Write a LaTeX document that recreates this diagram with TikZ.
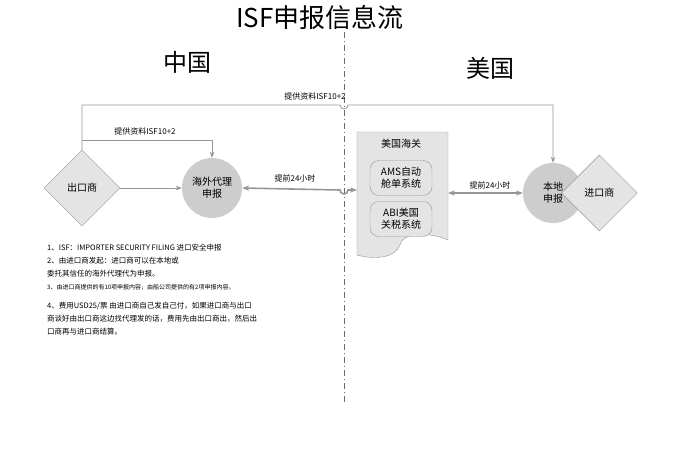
\documentclass[tikz,border=0pt]{standalone}
\usepackage{fontspec}
\setmainfont{Noto Sans CJK SC}
\usetikzlibrary{arrows.meta,positioning,shapes.geometric}
\definecolor{lined}{RGB}{150,150,150}
\definecolor{shade}{RGB}{228,228,228}
\definecolor{dark}{RGB}{205,205,205}

\begin{document}
\begin{tikzpicture}[x=1pt, y=-1pt,
    flow/.style={draw=lined, line width=0.8pt, -{Stealth[length=6pt]}},
    twoway/.style={draw=lined, line width=1.6pt, {Stealth[length=7pt]}-{Stealth[length=7pt]}},
    party/.style={diamond, draw=lined, fill=shade, minimum width=76pt, minimum height=76pt, inner sep=0pt, font=\fontsize{10}{12}\selectfont},
    filer/.style={circle, fill=dark, minimum size=60pt, inner sep=0pt, align=center, font=\fontsize{10}{12}\selectfont},
    system/.style={rectangle, rounded corners=9pt, draw=lined, fill=shade, minimum width=62pt, minimum height=35pt, align=center, inner sep=1pt, font=\fontsize{10}{12}\selectfont},
    tag/.style={font=\fontsize{8}{9}\selectfont}
]
    \useasboundingbox (0,0) rectangle (690,455);

    % headings
    \node (title) at (320,18) {\fontsize{26}{28}\selectfont ISF申报信息流};
    \node (cn) at (187,62) {\fontsize{24}{26}\selectfont 中国};
    \node (us) at (490,68) {\fontsize{24}{26}\selectfont 美国};
    \draw[lined!70!black, dash pattern=on 6pt off 3pt on 1pt off 3pt] (344,32) -- (344,405);

    % parties
    \node (exp) [party] at (82,188) {出口商};
    \node (agent) [filer] at (212,188) {海外代理\\申报};
    \node (local) [filer] at (553,193) {本地\\申报};
    \node (imp) [party, right=-22pt of local] {进口商};

    % customs
    \filldraw[draw=lined, fill=shade] (357,132) -- (448,132) -- (448,240)
        .. controls (425,230) and (400,235) .. (400,245)
        .. controls (395,258) and (375,260) .. (357,255) -- cycle;
    \node (customs) at (401,144) {\fontsize{10}{12}\selectfont 美国海关};
    \node (ams) [system] at (401,178) {AMS自动\\舱单系统};
    \node (abi) [system] at (401,219) {ABI美国\\关税系统};
    \coordinate (docl) at (357,190);
    \coordinate (docr) at (448,193);

    % flows
    \draw[flow] (exp) -- (agent);
    \draw[flow] (exp.north) -- (82,105) -- (340,105) arc[start angle=180, end angle=0, radius=4]
        -- (553,105) -- (local.north);
    \node[tag] at (315,96) {提供资料ISF10+2};
    \draw[flow] (82,140) -- (212,140) -- (agent.north);
    \node[tag] at (145,131) {提供资料ISF10+2};
    \draw[twoway] (agent.east) -- (340,190) arc[start angle=180, end angle=0, radius=4] -- (docl);
    \node[tag] at (295,178) {提前24小时};
    \draw[twoway] (docr) -- (local.west);
    \node[tag] at (490,185) {提前24小时};

    % notes
    \node[anchor=north west, align=left, inner sep=0pt, font=\fontsize{7.5}{13}\selectfont] (notes) at (47,244)
        {1、ISF：IMPORTER SECURITY FILING 进口安全申报\\
         2、由进口商发起：进口商可以在本地或\\
         委托其信任的海外代理代为申报。\\
         {\fontsize{6}{10}\selectfont 3、由进口商提供的有10项申报内容，由船公司提供的有2项申报内容。}\\[6pt]
         4、费用USD25/票 由进口商自己发自己付，如果进口商与出口\\
         商谈好由出口商这边找代理发的话，费用先由出口商出，然后出\\
         口商再与进口商结算。};
\end{tikzpicture}
\end{document}
